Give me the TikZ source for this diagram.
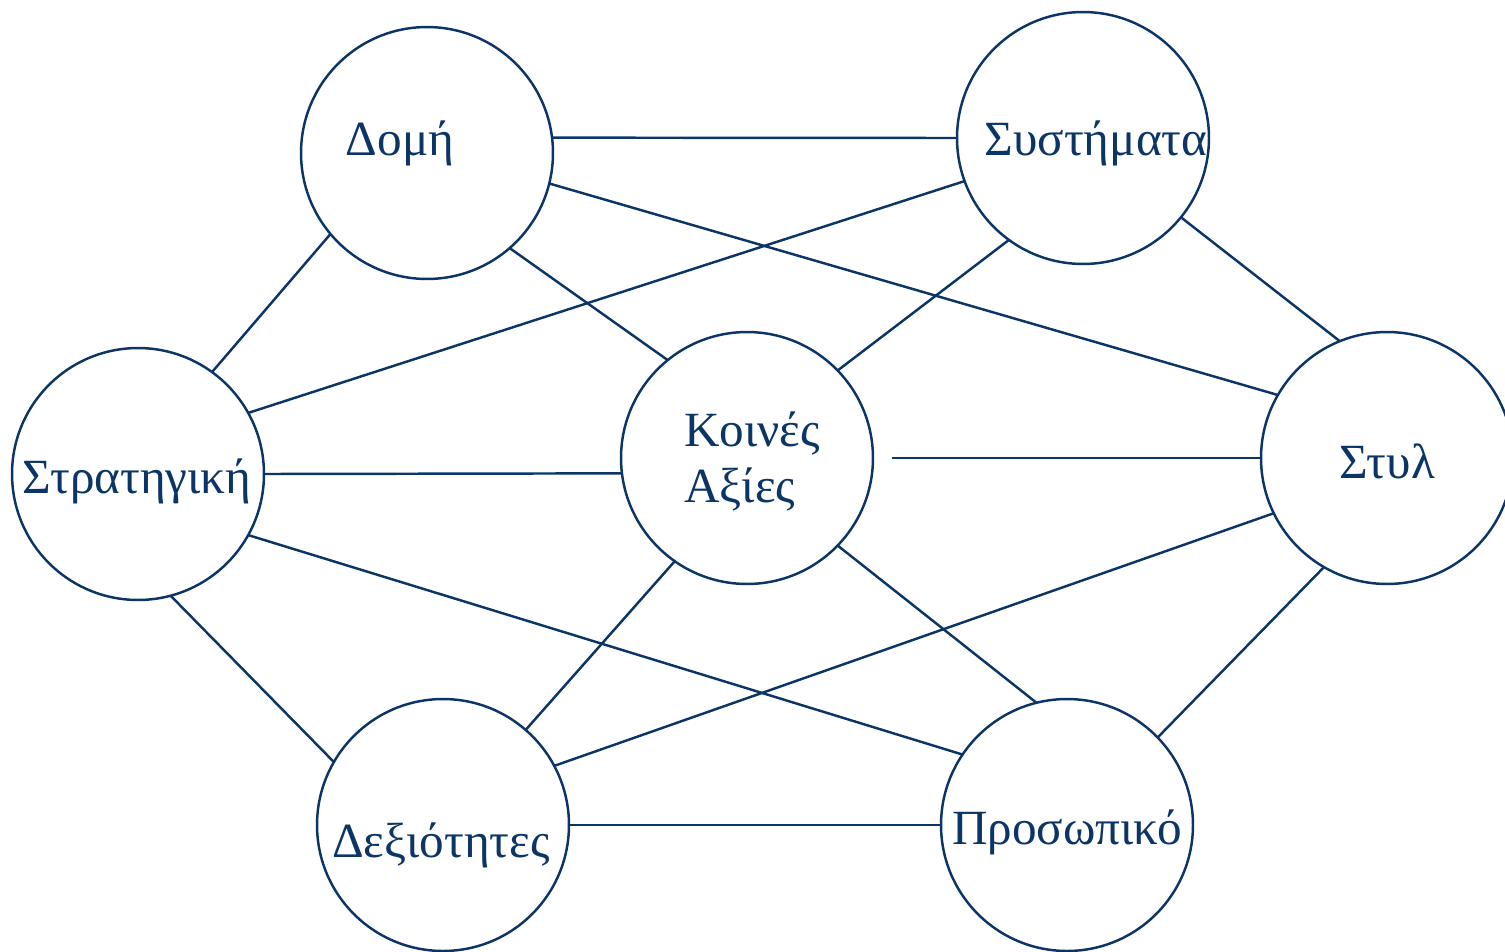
\documentclass[tikz,border=0pt]{standalone}
\usepackage{fontspec}
\setmainfont{Liberation Serif}
\definecolor{navy}{HTML}{0B3566}
\begin{document}
\begin{tikzpicture}[x=0.02cm,y=-0.02cm,
  ring/.style={circle,draw=navy,line width=1.4pt,minimum size=5.04cm,inner sep=0pt,outer sep=0pt},
  lbl/.style={text=navy,font=\fontsize{28}{32}\selectfont,inner sep=0pt,anchor=base},
  link/.style={draw=navy,line width=1.4pt}]
\useasboundingbox (0,0) rectangle (1505,951);
\clip (0,0) rectangle (1505,951);

% the seven elements
\node[ring] (dom) at (427,153) {};
\node[ring] (sys) at (1083,138) {};
\node[ring] (str) at (138,474) {};
\node[ring] (koi) at (747,458) {};
\node[ring] (sty) at (1387,458) {};
\node[ring] (dex) at (443,825) {};
\node[ring] (pro) at (1067,825) {};

% names
\node[lbl] (domT) at (400,155) {Δομή};
\node[lbl] (sysT) at (1096,155) {Συστήματα};
\node[lbl] (strT) at (137,493) {Στρατηγική};
\node[lbl,anchor=base west] (koiA) at (684,446) {Κοινές};
\node[lbl,anchor=base west] (koiB) at (684,502) {Αξίες};
\node[lbl] (styT) at (1387,478) {Στυλ};
\node[lbl] (dexT) at (441,857) {Δεξιότητες};
\node[lbl] (proT) at (1067,844) {Προσωπικό};

% connections
\draw[link] (dom.7) -- (sys.180);
\draw[link] (dom.-14.5) -- (sty.150);
\draw[link] (dom.-49.7) -- (koi.129.6);
\draw[link] (dom.220.6) -- (str.54);
\draw[link] (sys.200.6) -- (str.29.1);
\draw[link] (sys.234.6) -- (koi.44.7);
\draw[link] (sys.-39.6) -- (sty.112.9);
\draw[link] (str.0) -- (koi.187.6);
\draw[link] (str.-29.9) -- (pro.146.6);
\draw[link] (str.-75.2) -- (dex.150.6);
\draw[link,shorten <=0.38cm] (koi.0) -- (sty.180);
\draw[link] (koi.235.3) -- (dex.49.5);
\draw[link] (koi.-44.7) -- (pro.104.6);
\draw[link] (sty.206.2) -- (dex.28.8);
\draw[link] (sty.240.5) -- (pro.44.1);
\draw[link] (dex.0) -- (pro.180);
\end{tikzpicture}
\end{document}
